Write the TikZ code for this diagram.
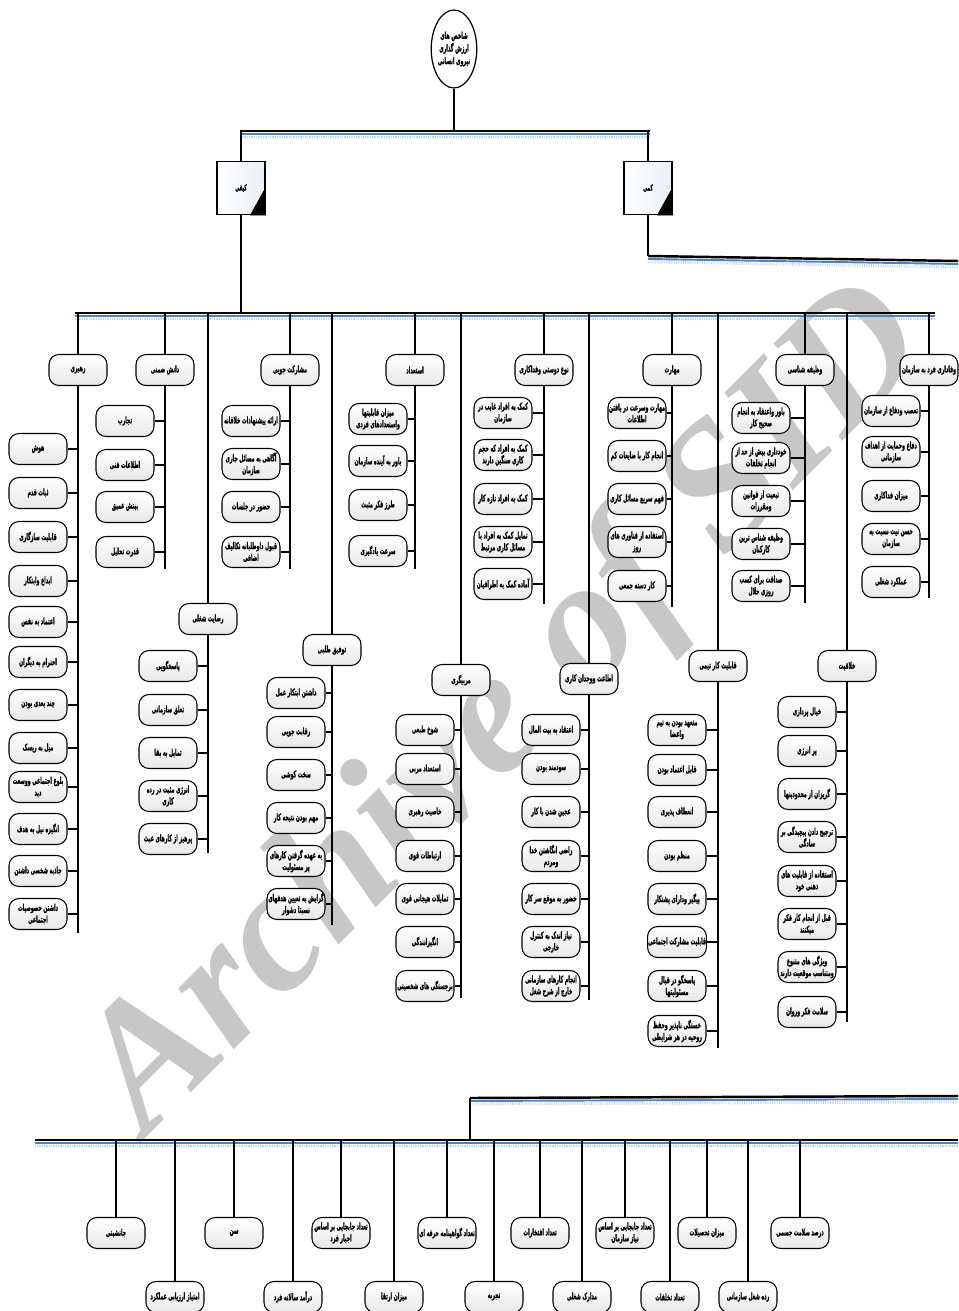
\documentclass[tikz,border=0pt]{standalone}
\usepackage{fontspec}
\usepackage{xcolor}
\usepackage{tikz}
\usetikzlibrary{shapes.geometric, calc}
\TeXXeTstate=1
\newfontfamily\fafont[Script=Arabic, FakeStretch=0.5, FakeBold=1.3]{DejaVu Sans Bold}
\newfontfamily\wmfont{Liberation Serif}
\newcommand{\fatx}[1]{\beginR #1\endR}
\definecolor{busblue}{RGB}{79,129,189}

\begin{document}
\begin{tikzpicture}[
    x=0.02cm, y=-0.02cm,
    leaf/.style={draw, line width=0.6pt, rounded corners=0.2cm, minimum width=1.16cm,
        minimum height=0.62cm, inner sep=0.3pt, align=center, top color=white,
        bottom color=black!9, font=\fafont\fontsize{5.3}{6.7}\selectfont},
    head/.style={leaf},
    root/.style={draw, ellipse, line width=0.7pt, minimum width=0.86cm, minimum height=1.56cm,
        inner sep=0pt, align=center, fill=white, font=\fafont\fontsize{5.4}{7.2}\selectfont},
    kind/.style={draw, line width=0.6pt, minimum width=0.96cm, minimum height=1.06cm, inner sep=0pt,
        left color=white, right color=busblue!12, font=\fafont\fontsize{4.8}{6}\selectfont},
    stem/.style={line width=1.6pt},
    link/.style={line width=0.9pt},
    tick/.style={line width=0.6pt},
    bus/.style={line width=1.4pt,
        preaction={draw=busblue!35, line width=1.6pt, dash pattern=on 0.4pt off 0.6pt, transform canvas={yshift=-3.4pt}},
        preaction={draw=busblue, line width=1.1pt, transform canvas={yshift=-1.7pt}}},
    wm/.style={text=black!22, rotate=45, font=\wmfont\bfseries\itshape\fontsize{102}{102}\selectfont}
]
\useasboundingbox (0,0) rectangle (958,1311);

% watermark behind everything
\node[wm] (wmark) at (510,712) {Archive of SID};

% root and the two kinds
\node[root] (root) at (454,49) {\fatx{شاخص های}\\\fatx{ارزش گذاری}\\\fatx{نیروی انسانی}};
\coordinate (bus1L) at (240,131);
\coordinate (bus1R) at (650,131);
\node[kind] (qual) at (241,188) {\fatx{کیفی}};
\node[kind] (quant) at (648,188) {\fatx{کمی}};
\coordinate (quantL) at (648,256);
\coordinate (quantEnd) at (958,261);
\coordinate (bus2L) at (75,313);
\coordinate (bus2R) at (935,313);

\draw[stem] (root) -- (root |- bus1L);
\draw[bus] (bus1L) -- (bus1R);
\draw[link] (qual |- bus1L) -- (qual);
\draw[link] (quant |- bus1R) -- (quant);
\draw[fill] (qual.south east) -- ([yshift=0.54cm]qual.south east) -- ([xshift=-0.3cm]qual.south east) -- cycle;
\draw[fill] (quant.south east) -- ([yshift=0.54cm]quant.south east) -- ([xshift=-0.3cm]quant.south east) -- cycle;
\draw[link] (qual) -- (qual |- bus2L);
\draw[link] (quant) -- (quantL);
\draw[bus] (quantL) -- (quantEnd);
\draw[bus] (bus2L) -- (bus2R);

% first row of heads
\node[head] (lead) at (78,370) {\fatx{رهبری}};
\node[head] (tacit) at (165,370) {\fatx{دانش ضمنی}};
\node[head] (part) at (290,370) {\fatx{مشارکت جویی}};
\node[head] (talent) at (415,370) {\fatx{استعداد}};
\node[head] (altru) at (544,370) {\fatx{نوع دوستی وفداکاری}};
\node[head] (skill) at (672,370) {\fatx{مهارت}};
\node[head] (duty) at (805,370) {\fatx{وظیفه شناسی}};
\node[head] (loyal) at (929,370) {\fatx{وفاداری فرد به سازمان}};

% second row of heads
\node[head] (satis) at (208,619) {\fatx{رضایت شغلی}};
\node[head] (achv) at (332,650) {\fatx{توفیق طلبی}};
\node[head] (coach) at (461,680) {\fatx{مربیگری}};
\node[head] (consc) at (589,679) {\fatx{اطاعت ووجدان کاری}};
\node[head] (team) at (718,666) {\fatx{قابلیت کار تیمی}};
\node[head] (creat) at (847,666) {\fatx{خلاقیت}};

% leadership
\node[leaf] (lead1) at (38,449) {\fatx{هوش}};
\node[leaf] (lead2) at (38,493) {\fatx{ثبات قدم}};
\node[leaf] (lead3) at (38,537) {\fatx{قابلیت سازگاری}};
\node[leaf] (lead4) at (38,581) {\fatx{ابداع وابتکار}};
\node[leaf] (lead5) at (38,622) {\fatx{اعتماد به نفس}};
\node[leaf] (lead6) at (38,662) {\fatx{احترام به دیگران}};
\node[leaf] (lead7) at (38,705) {\fatx{چند بعدی بودن}};
\node[leaf] (lead8) at (38,748) {\fatx{میل به ریسک}};
\node[leaf] (lead9) at (38,787) {\fatx{بلوغ اجتماعی ووسعت}\\\fatx{دید}};
\node[leaf] (lead10) at (38,829) {\fatx{انگیزه نیل به هدف}};
\node[leaf] (lead11) at (38,871) {\fatx{جاذبه شخصی داشتن}};
\node[leaf] (lead12) at (38,914) {\fatx{داشتن خصوصیات}\\\fatx{اجتماعی}};

% tacit knowledge
\node[leaf] (tacit1) at (125,421) {\fatx{تجارب}};
\node[leaf] (tacit2) at (125,465) {\fatx{اطلاعات فنی}};
\node[leaf] (tacit3) at (125,507) {\fatx{بینش عمیق}};
\node[leaf] (tacit4) at (125,552) {\fatx{قدرت تحلیل}};

% participation
\node[leaf] (part1) at (251,421) {\fatx{ارائه پیشنهادات خلاقانه}};
\node[leaf] (part2) at (251,464) {\fatx{آگاهی به مسائل جاری}\\\fatx{سازمان}};
\node[leaf] (part3) at (251,507) {\fatx{حضور در جلسات}};
\node[leaf] (part4) at (251,552) {\fatx{قبول داوطلبانه تکالیف}\\\fatx{اضافی}};

% talent
\node[leaf] (talent1) at (378,419) {\fatx{میزان قابلیتها}\\\fatx{واستعدادهای فردی}};
\node[leaf] (talent2) at (378,461) {\fatx{باور به آینده سازمان}};
\node[leaf] (talent3) at (378,505) {\fatx{طرز فکر مثبت}};
\node[leaf] (talent4) at (378,551) {\fatx{سرعت یادگیری}};

% altruism
\node[leaf] (altru1) at (503,413) {\fatx{کمک به افراد غایب در}\\\fatx{سازمان}};
\node[leaf] (altru2) at (503,455) {\fatx{کمک به افراد که حجم}\\\fatx{کاری سنگین دارند}};
\node[leaf] (altru3) at (503,499) {\fatx{کمک به افراد تازه کار}};
\node[leaf] (altru4) at (503,542) {\fatx{تمایل کمک به افراد با}\\\fatx{مسائل کاری مرتبط}};
\node[leaf] (altru5) at (503,584) {\fatx{آماده کمک به اطرافیان}};

% skill
\node[leaf] (skill1) at (637,413) {\fatx{مهارت وسرعت در یافتن}\\\fatx{اطلاعات}};
\node[leaf] (skill2) at (637,456) {\fatx{انجام کار با ضایعات کم}};
\node[leaf] (skill3) at (637,499) {\fatx{فهم سریع مسائل کاری}};
\node[leaf] (skill4) at (637,542) {\fatx{استفاده از فناوری های}\\\fatx{روز}};
\node[leaf] (skill5) at (637,586) {\fatx{کار دسته جمعی}};

% conscientiousness
\node[leaf] (duty1) at (761,418) {\fatx{باور واعتقاد به انجام}\\\fatx{صحیح کار}};
\node[leaf] (duty2) at (761,458) {\fatx{خودداری بیش از حد از}\\\fatx{انجام تخلفات}};
\node[leaf] (duty3) at (761,501) {\fatx{تبعیت از قوانین}\\\fatx{ومقررات}};
\node[leaf] (duty4) at (761,544) {\fatx{وظیفه شناس ترین}\\\fatx{کارکنان}};
\node[leaf] (duty5) at (761,586) {\fatx{صداقت برای کسب}\\\fatx{روزی حلال}};

% loyalty
\node[leaf] (loyal1) at (891,411) {\fatx{تعصب ودفاع از سازمان}};
\node[leaf] (loyal2) at (891,452) {\fatx{دفاع وحمایت از اهداف}\\\fatx{سازمانی}};
\node[leaf] (loyal3) at (891,496) {\fatx{میزان فداکاری}};
\node[leaf] (loyal4) at (891,539) {\fatx{حسن نیت نسبت به}\\\fatx{سازمان}};
\node[leaf] (loyal5) at (891,582) {\fatx{عملکرد شغلی}};

% job satisfaction
\node[leaf] (satis1) at (168,666) {\fatx{پاسخگویی}};
\node[leaf] (satis2) at (168,710) {\fatx{تعلق سازمانی}};
\node[leaf] (satis3) at (168,753) {\fatx{تمایل به بقا}};
\node[leaf] (satis4) at (168,796) {\fatx{انرژی مثبت در رده}\\\fatx{کاری}};
\node[leaf] (satis5) at (168,839) {\fatx{پرهیز از کارهای عبث}};

% achievement
\node[leaf] (achv1) at (296,693) {\fatx{داشتن ابتکار عمل}};
\node[leaf] (achv2) at (296,732) {\fatx{رقابت جویی}};
\node[leaf] (achv3) at (296,775) {\fatx{سخت کوشی}};
\node[leaf] (achv4) at (296,818) {\fatx{مهم بودن نتیجه کار}};
\node[leaf] (achv5) at (296,861) {\fatx{به عهده گرفتن کارهای}\\\fatx{پر مسئولیت}};
\node[leaf] (achv6) at (296,904) {\fatx{گرایش به تعیین هدفهای}\\\fatx{نسبتا دشوار}};

% coaching
\node[leaf] (coach1) at (425,730) {\fatx{شوخ طبعی}};
\node[leaf] (coach2) at (425,769) {\fatx{استعداد مربی}};
\node[leaf] (coach3) at (425,812) {\fatx{خاصیت رهبری}};
\node[leaf] (coach4) at (425,856) {\fatx{ارتباطات قوی}};
\node[leaf] (coach5) at (425,899) {\fatx{تمایلات هیجانی قوی}};
\node[leaf] (coach6) at (425,942) {\fatx{انگیزانندگی}};
\node[leaf] (coach7) at (425,986) {\fatx{برجستگی های شخصیتی}};

% obedience
\node[leaf] (consc1) at (551,730) {\fatx{اعتقاد به بیت المال}};
\node[leaf] (consc2) at (551,769) {\fatx{سودمند بودن}};
\node[leaf] (consc3) at (551,812) {\fatx{عجین شدن با کار}};
\node[leaf] (consc4) at (551,856) {\fatx{راضی انگاشتن خدا}\\\fatx{ومردم}};
\node[leaf] (consc5) at (551,899) {\fatx{حضور به موقع سر کار}};
\node[leaf] (consc6) at (551,942) {\fatx{نیاز اندک به کنترل}\\\fatx{خارجی}};
\node[leaf] (consc7) at (551,986) {\fatx{انجام کارهای سازمانی}\\\fatx{خارج از شرح شغل}};

% teamwork
\node[leaf] (team1) at (677,730) {\fatx{متعهد بودن به تیم}\\\fatx{واعضا}};
\node[leaf] (team2) at (677,770) {\fatx{قابل اعتماد بودن}};
\node[leaf] (team3) at (677,812) {\fatx{انعطاف پذیری}};
\node[leaf] (team4) at (677,856) {\fatx{منظم بودن}};
\node[leaf] (team5) at (677,899) {\fatx{پیگیر ودارای پشتکار}};
\node[leaf] (team6) at (677,942) {\fatx{قابلیت مشارکت اجتماعی}};
\node[leaf] (team7) at (677,986) {\fatx{پاسخگو در قبال}\\\fatx{مسئولیتها}};
\node[leaf] (team8) at (677,1031) {\fatx{خستگی ناپذیر وحفظ}\\\fatx{روحیه در هر شرایطی}};

% creativity
\node[leaf] (creat1) at (807,712) {\fatx{خیال پردازی}};
\node[leaf] (creat2) at (807,751) {\fatx{پر انرژی}};
\node[leaf] (creat3) at (807,794) {\fatx{گریزان از محدودیتها}};
\node[leaf] (creat4) at (807,837) {\fatx{ترجیح دادن پیچیدگی بر}\\\fatx{سادگی}};
\node[leaf] (creat5) at (807,881) {\fatx{استفاده از قابلیت های}\\\fatx{ذهنی خود}};
\node[leaf] (creat6) at (807,924) {\fatx{قبل از انجام کار فکر}\\\fatx{میکنند}};
\node[leaf] (creat7) at (807,967) {\fatx{ویژگی های متنوع}\\\fatx{ومتناسب موقعیت دارند}};
\node[leaf] (creat8) at (807,1012) {\fatx{سلامت فکر وروان}};

% stems of the heads
\draw[stem] (lead |- bus2L) -- (lead);
\draw[stem] (lead) -- (lead |- 0,933);
\draw[stem] (tacit |- bus2L) -- (tacit);
\draw[stem] (tacit) -- (tacit |- 0,569);
\draw[stem] (part |- bus2L) -- (part);
\draw[stem] (part) -- (part |- 0,569);
\draw[stem] (talent |- bus2L) -- (talent);
\draw[stem] (talent) -- (talent |- 0,569);
\draw[stem] (altru |- bus2L) -- (altru);
\draw[stem] (altru) -- (altru |- 0,604);
\draw[stem] (skill |- bus2L) -- (skill);
\draw[stem] (skill) -- (skill |- 0,607);
\draw[stem] (duty |- bus2L) -- (duty);
\draw[stem] (duty) -- (duty |- 0,603);
\draw[stem] (loyal |- bus2L) -- (loyal);
\draw[stem] (loyal) -- (loyal |- 0,598);
\draw[stem] (satis |- bus2L) -- (satis);
\draw[stem] (satis) -- (satis |- 0,853);
\draw[stem] (achv |- bus2L) -- (achv);
\draw[stem] (achv) -- (achv |- 0,925);
\draw[stem] (coach |- bus2L) -- (coach);
\draw[stem] (coach) -- (coach |- 0,998);
\draw[stem] (consc |- bus2L) -- (consc);
\draw[stem] (consc) -- (consc |- 0,1000);
\draw[stem] (team |- bus2L) -- (team);
\draw[stem] (team) -- (team |- 0,1048);
\draw[stem] (creat |- bus2L) -- (creat);
\draw[stem] (creat) -- (creat |- 0,1022);

% ticks from the leaves
\foreach \i in {1,...,12} \draw[tick] (lead\i) -- (lead\i -| lead);
\foreach \i in {1,...,4} \draw[tick] (tacit\i) -- (tacit\i -| tacit);
\foreach \i in {1,...,4} \draw[tick] (part\i) -- (part\i -| part);
\foreach \i in {1,...,4} \draw[tick] (talent\i) -- (talent\i -| talent);
\foreach \i in {1,...,5} \draw[tick] (altru\i) -- (altru\i -| altru);
\foreach \i in {1,...,5} \draw[tick] (skill\i) -- (skill\i -| skill);
\foreach \i in {1,...,5} \draw[tick] (duty\i) -- (duty\i -| duty);
\foreach \i in {1,...,5} \draw[tick] (loyal\i) -- (loyal\i -| loyal);
\foreach \i in {1,...,5} \draw[tick] (satis\i) -- (satis\i -| satis);
\foreach \i in {1,...,6} \draw[tick] (achv\i) -- (achv\i -| achv);
\foreach \i in {1,...,7} \draw[tick] (coach\i) -- (coach\i -| coach);
\foreach \i in {1,...,7} \draw[tick] (consc\i) -- (consc\i -| consc);
\foreach \i in {1,...,8} \draw[tick] (team\i) -- (team\i -| team);
\foreach \i in {1,...,8} \draw[tick] (creat\i) -- (creat\i -| creat);

% quantitative part (bottom)
\coordinate (bus3L) at (470,1098);
\coordinate (bus3R) at (958,1096);
\coordinate (bus4L) at (35,1140);
\coordinate (bus4R) at (958,1140);
\draw[bus] (bus3L) -- (bus3R);
\draw[stem] (bus3L) -- (bus3L |- bus4L);
\draw[bus] (bus4L) -- (bus4R);

\node[leaf] (bt1) at (116,1233) {\fatx{جانشینی}};
\node[leaf] (bt2) at (234,1233) {\fatx{سن}};
\node[leaf] (bt3) at (341,1233) {\fatx{تعداد جابجایی بر اساس}\\\fatx{اجبار فرد}};
\node[leaf] (bt4) at (447,1233) {\fatx{تعداد گواهینامه حرفه ای}};
\node[leaf] (bt5) at (540,1233) {\fatx{تعداد افتخارات}};
\node[leaf] (bt6) at (625,1233) {\fatx{تعداد جابجایی بر اساس}\\\fatx{نیاز سازمان}};
\node[leaf] (bt7) at (707,1233) {\fatx{میزان تحصیلات}};
\node[leaf] (bt8) at (800,1233) {\fatx{درصد سلامت جسمی}};
\node[leaf] (bb1) at (175,1297) {\fatx{امتیاز ارزیابی عملکرد}};
\node[leaf] (bb2) at (293,1297) {\fatx{درآمد سالانه فرد}};
\node[leaf] (bb3) at (394,1297) {\fatx{میزان ارتقا}};
\node[leaf] (bb4) at (494,1297) {\fatx{تجربه}};
\node[leaf] (bb5) at (582,1297) {\fatx{مدارک شغلی}};
\node[leaf] (bb6) at (670,1297) {\fatx{تعداد تخلفات}};
\node[leaf] (bb7) at (748,1297) {\fatx{رده شغل سازمانی}};

\foreach \n in {bt1,bt2,bt3,bt4,bt5,bt6,bt7,bt8,bb1,bb2,bb3,bb4,bb5,bb6,bb7}
    \draw[stem] (\n |- bus4L) -- (\n);

\end{tikzpicture}
\end{document}
